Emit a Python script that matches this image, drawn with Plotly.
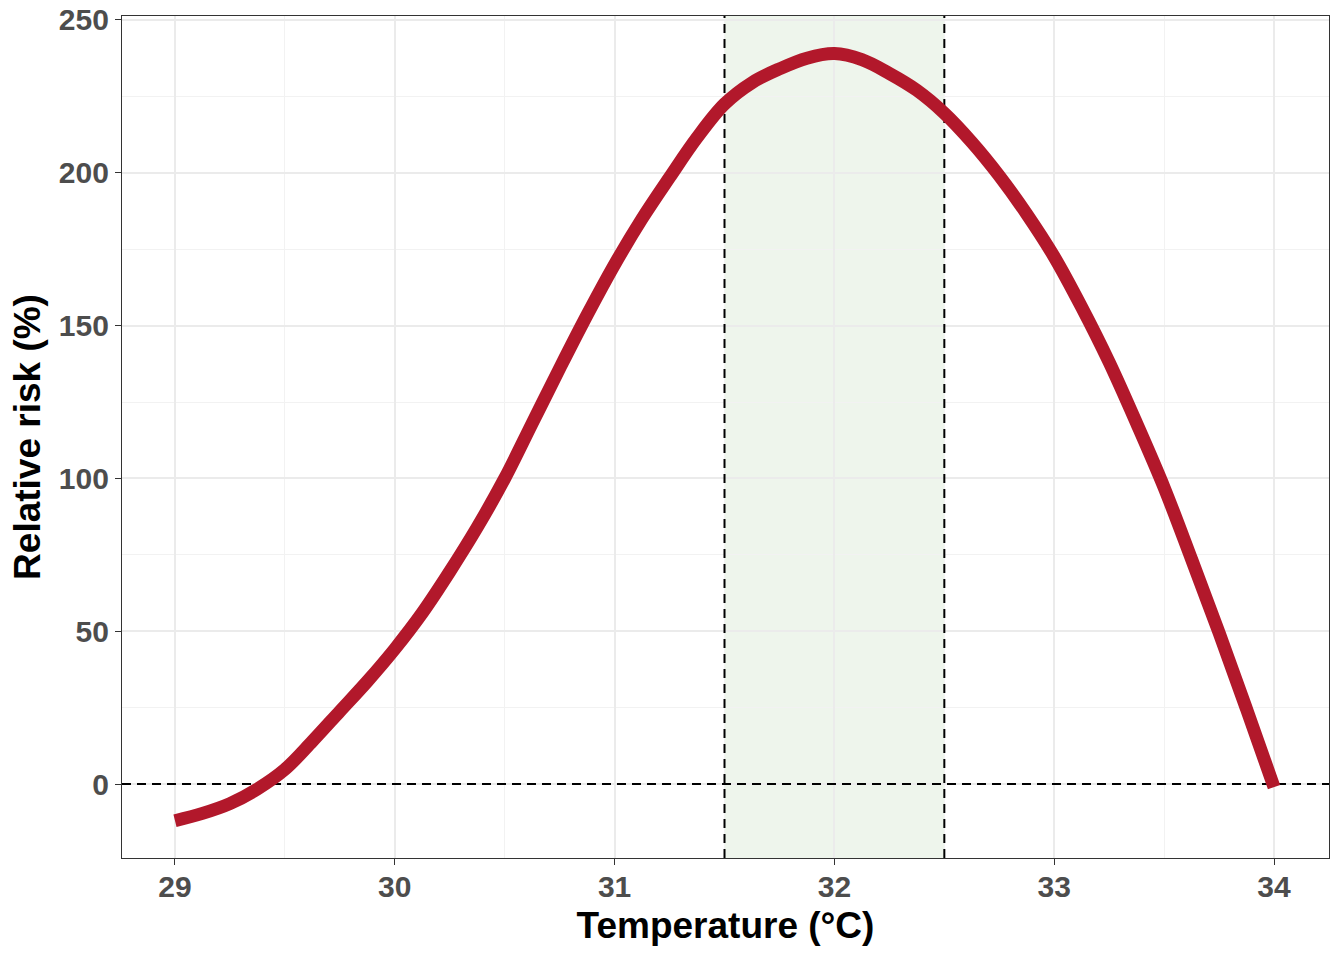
import plotly.graph_objects as go

# --- Data ---
temperature = [29.0, 29.125, 29.25, 29.375, 29.5, 29.625, 29.75, 29.875,
               30.0, 30.125, 30.25, 30.375, 30.5, 30.625, 30.75, 30.875,
               31.0, 31.125, 31.25, 31.375, 31.5, 31.625, 31.75, 31.875,
               32.0, 32.125, 32.25, 32.375, 32.5, 32.625, 32.75, 32.875,
               33.0, 33.125, 33.25, 33.375, 33.5, 33.625, 33.75, 33.875, 34.0]
relative_risk = [-12, -9.6, -6.4, -1.6, 4.8, 14.0, 23.8, 33.6,
                 44.2, 56, 69.5, 84, 100, 118, 136, 153.5,
                 170, 185, 198.5, 211.5, 222.5, 229.5, 234, 237.5,
                 239, 237, 232.5, 227, 219.5, 210, 199, 186.5,
                 172.5, 156, 138, 118, 97, 73.5, 49.5, 24.5, -1]

optimum_band = [31.5, 32.5]   # shaded optimal range
baseline = 0

x_range = [28.759, 34.25]
y_range = [-24.2, 251.3]
x_ticks = [29, 30, 31, 32, 33, 34]
y_ticks = [0, 50, 100, 150, 200, 250]

FONT = "Liberation Sans"
GRID = "#EBEBEB"
BORDER = "#333333"
DASH = dict(color="black", width=2, dash="9px,6px")

fig = go.Figure()

# shaded band (under the gridlines)
fig.add_shape(type="rect", xref="x", yref="y domain",
              x0=optimum_band[0], x1=optimum_band[1], y0=0, y1=1,
              fillcolor="#EEF5EC", line=dict(width=0), layer="below")

# dashed reference lines, drawn before the curve so the curve sits on top
for xv in optimum_band:
    fig.add_trace(go.Scatter(x=[xv, xv], y=y_range, mode="lines", line=DASH,
                             showlegend=False, hoverinfo="skip"))
fig.add_trace(go.Scatter(x=x_range, y=[baseline, baseline], mode="lines",
                         line=DASH, showlegend=False, hoverinfo="skip"))

fig.add_trace(go.Scatter(
    x=temperature, y=relative_risk,
    mode="lines",
    line=dict(color="#B2182B", width=13, shape="spline", smoothing=1.0),
    showlegend=False,
    hoverinfo="skip",
))

axis_common = dict(
    showline=True, mirror=True, linecolor=BORDER, linewidth=1.3,
    ticks="outside", ticklen=6, tickwidth=1.3, tickcolor=BORDER,
    showgrid=True, gridcolor=GRID, gridwidth=1.5,
    zeroline=False, automargin=False,
    tickfont=dict(family=FONT, size=30, color="#4D4D4D", weight="bold"),
)

fig.update_xaxes(
    **axis_common,
    range=x_range,
    tickvals=x_ticks,
    ticklabelstandoff=-4,
    minor=dict(dtick=0.5, showgrid=True, gridcolor="#F2F2F2", gridwidth=0.9),
    title=dict(text="Temperature (°C)", standoff=9,
               font=dict(family=FONT, size=37, color="black", weight="bold")),
)
fig.update_yaxes(
    **axis_common,
    range=y_range,
    tickvals=y_ticks,
    minor=dict(dtick=25, showgrid=True, gridcolor="#F2F2F2", gridwidth=0.9),
    title=dict(text="Relative risk (%)", standoff=6,
               font=dict(family=FONT, size=37, color="black", weight="bold")),
)

fig.update_layout(
    width=1344, height=960,
    margin=dict(l=122, r=15, t=16, b=102),
    plot_bgcolor="white",
    paper_bgcolor="white",
)

# drop the default 8px page margin so the figure fills the window exactly
fig.write_html("out.html", config={"displayModeBar": False},
               post_script="document.body.style.margin='0';")
